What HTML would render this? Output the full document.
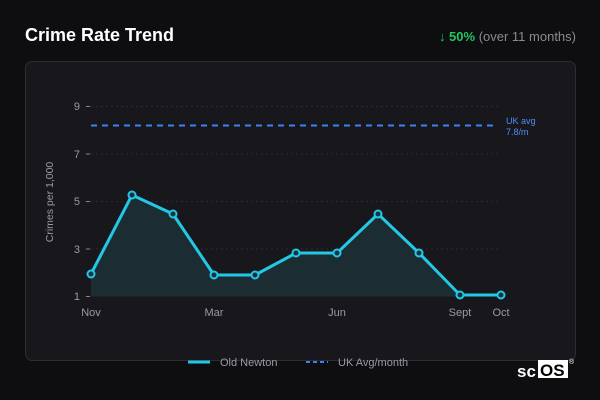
<!DOCTYPE html>
<html><head><style>
body{margin:0;width:600px;height:400px;background:#0e0e11;font-family:"Liberation Sans",sans-serif;overflow:hidden;position:relative}
.t{position:absolute;left:25px;top:25px;color:#fff;font-weight:bold;font-size:18px}
.s{position:absolute;right:24px;top:29px;font-size:13px;color:#8a8a92}
.s b{color:#22c55e}
.p{position:absolute;left:25px;top:61px;width:549px;height:298px;border:1px solid #2c2c33;border-radius:7px;background:#17171c}
</style></head><body>
<div class="t">Crime Rate Trend</div>
<div class="s"><b>↓ 50%</b> (over 11 months)</div>
<div class="p"></div>
<svg width="600" height="400" style="position:absolute;left:0;top:0" font-family="Liberation Sans,sans-serif">
<g stroke="#2a2a30" stroke-dasharray="2,3">
<line x1="91" x2="501" y1="106.5" y2="106.5"/><line x1="91" x2="501" y1="154" y2="154"/><line x1="91" x2="501" y1="201.5" y2="201.5"/><line x1="91" x2="501" y1="249" y2="249"/>
</g>
<g stroke="#888" ><line x1="86" x2="90" y1="106.5" y2="106.5"/><line x1="86" x2="90" y1="154" y2="154"/><line x1="86" x2="90" y1="201.5" y2="201.5"/><line x1="86" x2="90" y1="249" y2="249"/><line x1="86" x2="90" y1="296.5" y2="296.5"/></g>
<g fill="#9a9aa2" font-size="11" text-anchor="end"><text x="80" y="110">9</text><text x="80" y="158">7</text><text x="80" y="205">5</text><text x="80" y="253">3</text><text x="80" y="300">1</text></g>
<text transform="translate(53,202) rotate(-90)" fill="#9a9aa2" font-size="10.5" text-anchor="middle">Crimes per 1,000</text>
<g fill="#9a9aa2" font-size="11" text-anchor="middle"><text x="91" y="316">Nov</text><text x="214" y="316">Mar</text><text x="337" y="316">Jun</text><text x="460" y="316">Sept</text><text x="501" y="316">Oct</text></g>
<line x1="91" x2="497" y1="125.5" y2="125.5" stroke="#3b82f6" stroke-width="2" stroke-dasharray="6,5"/>
<text x="506" y="124" fill="#4f8ff7" font-size="9">UK avg</text><text x="506" y="135" fill="#4f8ff7" font-size="9">7.8/m</text>
<path d="M91 274 L132 195 L173 214 L214 275 L255 275 L296 253 L337 253 L378 214 L419 253 L460 295 L501 295 L501 296.5 L91 296.5Z" fill="#1b2d33"/>
<polyline points="91,274 132,195 173,214 214,275 255,275 296,253 337,253 378,214 419,253 460,295 501,295" fill="none" stroke="#22c8e5" stroke-width="3" stroke-linejoin="round"/>
<g fill="#17303a" stroke="#22c8e5" stroke-width="2"><circle cx="91" cy="274" r="3.5"/><circle cx="132" cy="195" r="3.5"/><circle cx="173" cy="214" r="3.5"/><circle cx="214" cy="275" r="3.5"/><circle cx="255" cy="275" r="3.5"/><circle cx="296" cy="253" r="3.5"/><circle cx="337" cy="253" r="3.5"/><circle cx="378" cy="214" r="3.5"/><circle cx="419" cy="253" r="3.5"/><circle cx="460" cy="295" r="3.5"/><circle cx="501" cy="295" r="3.5"/></g>
<line x1="188" x2="210" y1="362" y2="362" stroke="#22c8e5" stroke-width="3"/>
<text x="220" y="366" fill="#9a9aa2" font-size="11">Old Newton</text>
<line x1="306" x2="328" y1="362" y2="362" stroke="#3b82f6" stroke-width="2" stroke-dasharray="4,3"/>
<text x="338" y="366" fill="#9a9aa2" font-size="11">UK Avg/month</text>
<text x="517" y="377" fill="#fff" font-size="17" font-weight="bold">sc</text>
<rect x="538" y="360" width="30" height="18" fill="#fff"/>
<text x="540" y="376" fill="#000" font-size="17" font-weight="bold">OS</text>
<text x="569" y="364" fill="#fff" font-size="7">®</text>
</svg>
</body></html>
